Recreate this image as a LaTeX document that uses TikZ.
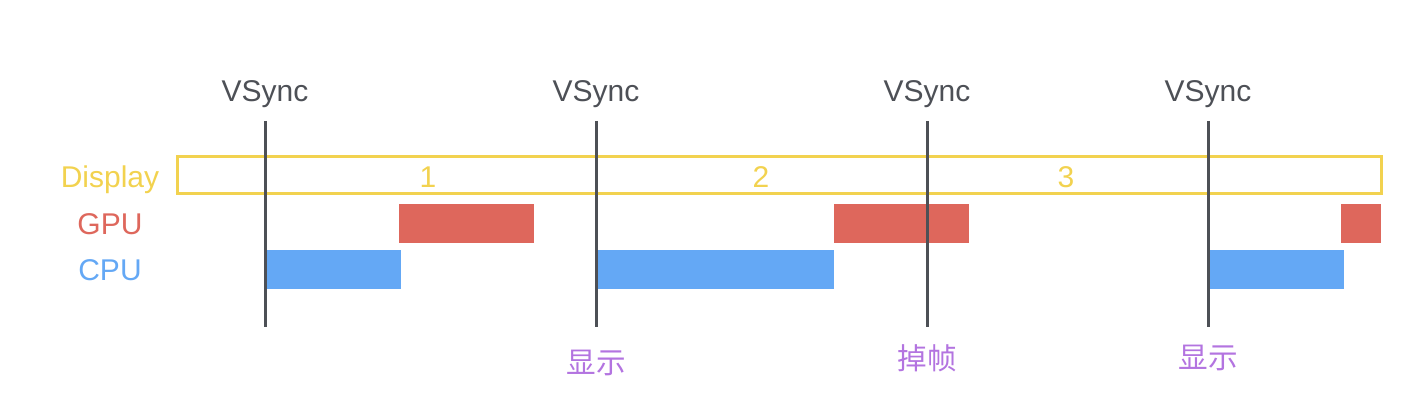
\documentclass[tikz,border=0pt]{standalone}
\usepackage{fontspec}
\setmainfont{Liberation Sans}
\newfontfamily\cjk{Noto Sans CJK SC}
\usepackage{xcolor}
\definecolor{syncgray}{HTML}{4D5056}
\definecolor{dispyellow}{HTML}{F2D24F}
\definecolor{gpured}{HTML}{DE675C}
\definecolor{cpublue}{HTML}{64A8F5}
\definecolor{notepurple}{HTML}{B374E0}

\begin{document}
\begin{tikzpicture}[x=0.5pt,y=-0.5pt,
	syncline/.style={draw=syncgray, line width=1.5pt},
	txt/.style={inner sep=0pt, font=\fontsize{15}{18}\selectfont},
	note/.style={inner sep=0pt, text=notepurple, font=\cjk\fontsize{14.8}{17}\selectfont}]
	\useasboundingbox (0,0) rectangle (1412,416);

	% display frame and rows
	\draw[dispyellow, line width=1.5pt] (177,157) rectangle (1381,194);
	\node[txt, text=dispyellow, anchor=base] (disp) at (110,188) {Display};
	\node[txt, text=gpured, anchor=base] (gpu) at (110,235) {GPU};
	\node[txt, text=cpublue, anchor=base] (cpu) at (110,281) {CPU};
	\node[txt, text=dispyellow, anchor=base] (f1) at (428,188) {1};
	\node[txt, text=dispyellow, anchor=base] (f2) at (761,188) {2};
	\node[txt, text=dispyellow, anchor=base] (f3) at (1066,188) {3};

	% gpu work
	\fill[gpured] (399,204) rectangle (534,243);
	\fill[gpured] (834,204) rectangle (969,243);
	\fill[gpured] (1341,204) rectangle (1381,243);

	% cpu work
	\fill[cpublue] (266,250) rectangle (401,289);
	\fill[cpublue] (597,250) rectangle (834,289);
	\fill[cpublue] (1209,250) rectangle (1344,289);

	% vsync
	\coordinate (s1t) at (265,121); \coordinate (s1b) at (265,327);
	\coordinate (s2t) at (596,121); \coordinate (s2b) at (596,327);
	\coordinate (s3t) at (927,121); \coordinate (s3b) at (927,327);
	\coordinate (s4t) at (1208,121); \coordinate (s4b) at (1208,327);
	\draw[syncline] (s1t) -- (s1b);
	\draw[syncline] (s2t) -- (s2b);
	\draw[syncline] (s3t) -- (s3b);
	\draw[syncline] (s4t) -- (s4b);
	\node[txt, text=syncgray, anchor=base] (v1) at (265,102) {VSync};
	\node[txt, text=syncgray, anchor=base] (v2) at (596,102) {VSync};
	\node[txt, text=syncgray, anchor=base] (v3) at (927,102) {VSync};
	\node[txt, text=syncgray, anchor=base] (v4) at (1208,102) {VSync};

	\node[note] (n2) at (596,363) {显示};
	\node[note] (n3) at (927,358) {掉帧};
	\node[note] (n4) at (1208,358) {显示};
\end{tikzpicture}
\end{document}
